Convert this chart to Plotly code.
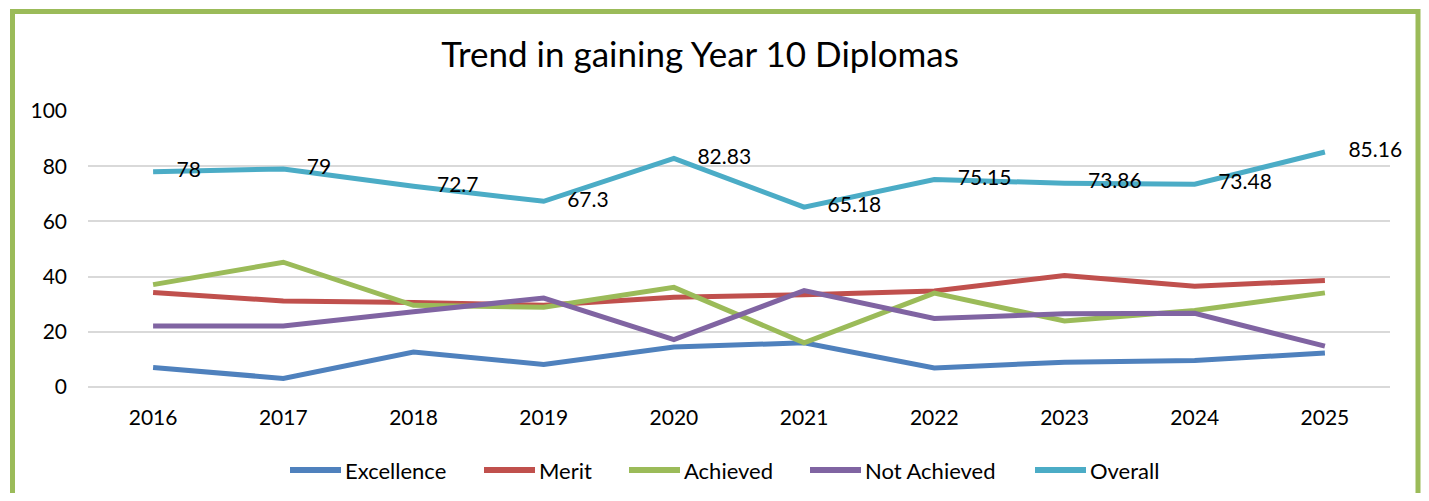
import plotly.graph_objects as go

# chart data
years = ["2016", "2017", "2018", "2019", "2020", "2021", "2022", "2023", "2024", "2025"]
excellence = [7.1, 3.1, 12.7, 8.2, 14.5, 16.0, 6.9, 9.0, 9.6, 12.3]
merit = [34.2, 31.2, 30.6, 29.6, 32.5, 33.4, 34.8, 40.4, 36.5, 38.6]
achieved = [37.1, 45.2, 29.6, 28.9, 36.1, 16.0, 34.0, 23.9, 27.7, 34.1]
not_achieved = [22.1, 22.1, 27.3, 32.2, 17.2, 34.9, 24.8, 26.5, 26.7, 14.8]
overall = [78, 79, 72.7, 67.3, 82.83, 65.18, 75.15, 73.86, 73.48, 85.16]
overall_labels = ["78", "79", "72.7", "67.3", "82.83", "65.18", "75.15", "73.86", "73.48", "85.16"]
series_names = ["Excellence", "Merit", "Achieved", "Not Achieved", "Overall"]

FONT = "Lato"
colors = ["#4F81BD", "#C0504D", "#9BBB59", "#8064A2", "#4BACC6"]

# page has an 8px body margin, so work in reference pixels shifted by OFF
OFF = 8
W, H = 1429 - 2 * OFF, 501 - 2 * OFF
ML, MT = 88 - OFF, 111 - OFF
MR = W - (1390 - OFF)
MB = H - (387 - OFF)

fig = go.Figure()
for name, vals, col in zip(series_names[:4], [excellence, merit, achieved, not_achieved], colors[:4]):
    fig.add_trace(go.Scatter(x=years, y=vals, name=name, mode="lines",
                             line=dict(color=col, width=5),
                             hoverinfo="x+y+name"))

# overall line with data labels to the right
fig.add_trace(go.Scatter(x=years, y=overall, name=series_names[4], mode="lines+markers+text",
                         line=dict(color=colors[4], width=5),
                         marker=dict(size=36, color="rgba(0,0,0,0)"),
                         text=overall_labels, textposition="middle right",
                         textfont=dict(family=FONT, size=21, color="black"),
                         cliponaxis=False, hoverinfo="x+y+name"))

pw = W - ML - MR
ph = H - MT - MB
def px(x):  # reference pixel x -> paper
    return (x - OFF - ML) / pw
def py(y):  # reference pixel y -> paper
    return (H - MB - (y - OFF)) / ph

# green frame around the whole chart
fig.add_shape(type="rect", xref="paper", yref="paper",
              x0=px(12.5), x1=px(1418), y0=py(11.5), y1=py(560),
              line=dict(color="#9BBB59", width=5), layer="below")

# legend drawn by hand so the line keys are long like the original
legend_x = [288, 482, 627, 808, 1033]
for name, col, lx in zip(series_names, colors, legend_x):
    fig.add_shape(type="line", xref="paper", yref="paper",
                  x0=px(lx + 2), x1=px(lx + 53), y0=py(470), y1=py(470),
                  line=dict(color=col, width=6))
    fig.add_annotation(text=name, xref="paper", yref="paper", x=px(lx + 55), y=py(470),
                       xanchor="left", yanchor="middle", showarrow=False,
                       font=dict(family=FONT, size=22, color="black"))

fig.update_layout(
    width=W, height=H,
    margin=dict(l=ML, r=MR, t=MT, b=MB),
    paper_bgcolor="white", plot_bgcolor="white",
    font=dict(family=FONT, size=21, color="black"),
    title=dict(text="Trend in gaining Year 10 Diplomas", x=(700 - OFF) / W, xanchor="center",
               xref="container", y=1 - (55 - OFF) / H, yanchor="middle", yref="container",
               font=dict(family=FONT, size=35, color="black")),
    showlegend=False,
    xaxis=dict(type="category", range=[-0.5, 9.5], showgrid=False, showline=False,
               zeroline=False, ticks="", ticklabelstandoff=16,
               tickfont=dict(family=FONT, size=21)),
    yaxis=dict(range=[0, 100], dtick=20, showgrid=True, gridcolor="#D9D9D9", gridwidth=1.5,
               zeroline=True, zerolinecolor="#D9D9D9", zerolinewidth=1.5,
               showline=False, ticks="", ticklabelstandoff=20,
               tickfont=dict(family=FONT, size=21)),
)

fig.write_html("out.html")
